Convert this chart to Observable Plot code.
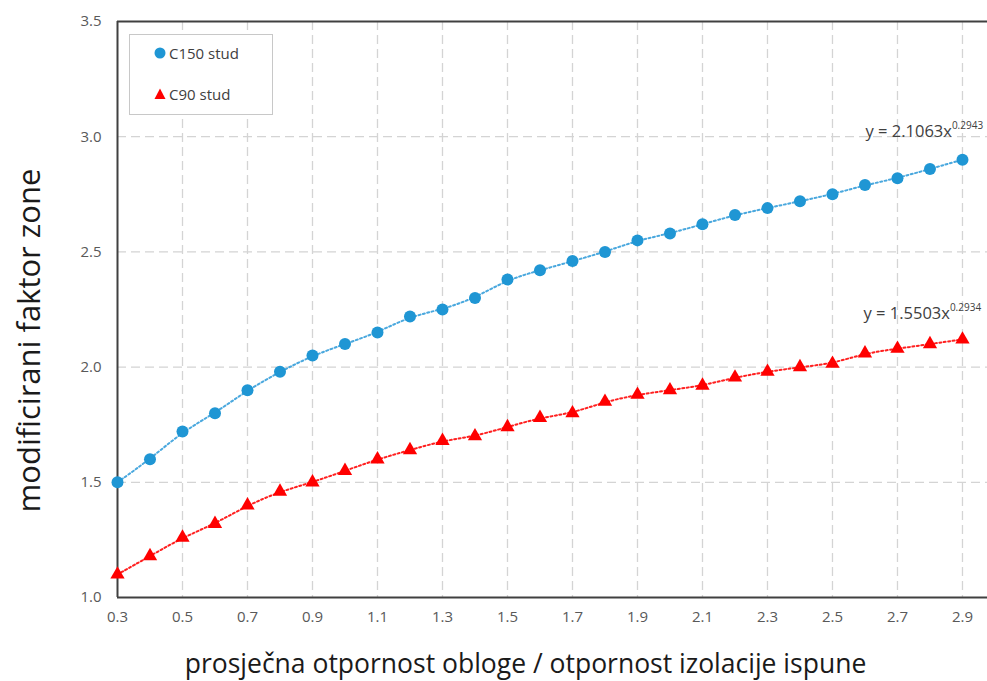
<!DOCTYPE html>
<html>
<head>
<meta charset="utf-8">
<script src="https://cdn.jsdelivr.net/npm/d3@7"></script>
<script src="https://cdn.jsdelivr.net/npm/@observablehq/plot@0.6"></script>
<style>
  html, body { margin: 0; padding: 0; background: #fff; }
  #wrap { position: relative; width: 987px; height: 681px; font-family: "Open Sans", sans-serif; }
  #legend { position: absolute; left: 129px; top: 34px; width: 142px; height: 79px;
    border: 1.5px solid #c8c8c8; background: #fff; color: #404040; font-size: 15px; }
  #legend .item { position: absolute; left: 24px; display: flex; align-items: center; gap: 3px; }
</style>
</head>
<body>
<div id="wrap">
  <div id="chart"></div>
  <div id="legend"></div>
</div>
<script>
const xs   = [0.3,0.4,0.5,0.6,0.7,0.8,0.9,1.0,1.1,1.2,1.3,1.4,1.5,1.6,1.7,1.8,1.9,2.0,2.1,2.2,2.3,2.4,2.5,2.6,2.7,2.8,2.9];
const c150 = [1.50,1.60,1.72,1.80,1.90,1.98,2.05,2.10,2.15,2.22,2.25,2.30,2.38,2.42,2.46,2.50,2.55,2.58,2.62,2.66,2.69,2.72,2.75,2.79,2.82,2.86,2.90];
const c90  = [1.10,1.18,1.26,1.32,1.40,1.46,1.50,1.55,1.60,1.64,1.68,1.70,1.74,1.78,1.80,1.85,1.88,1.90,1.92,1.955,1.98,2.00,2.015,2.06,2.08,2.10,2.12];
const seriesNames = ["C150 stud", "C90 stud"];
const seriesColors = ["#1f96d4", "#ff0000"];
const lineColors = ["#4aa8de", "#ff2020"];
const xTicks = [0.3,0.5,0.7,0.9,1.1,1.3,1.5,1.7,1.9,2.1,2.3,2.5,2.7,2.9];
const yTicks = [1.0,1.5,2.0,2.5,3.0,3.5];
const eqBase = ["y = 2.1063x", "y = 1.5503x"];
const eqExp  = ["0.2943", "0.2934"];
const xTitle = "prosječna otpornost obloge / otpornost izolacije ispune";
const yTitle = "modificirani faktor zone";

const d150 = xs.map((x, i) => ({x, y: c150[i]}));
const d90  = xs.map((x, i) => ({x, y: c90[i]}));
const eqData = [
  {x: xs[xs.length-1], y: c150[c150.length-1], t: eqBase[0], dx: -97, dy: -23},
  {x: xs[xs.length-1], y: c90[c90.length-1], t: eqBase[1], dx: -99, dy: -20}
];

const gridStyle = {stroke: "#d4d4d4", strokeOpacity: 1, strokeWidth: 1.3, strokeDasharray: "9,5"};
const fmt = d => d.toFixed(1);

const chart = Plot.plot({
  width: 987, height: 681,
  marginLeft: 117, marginTop: 21, marginBottom: 84, marginRight: 0,
  style: {fontFamily: "Open Sans, sans-serif", color: "#595959", background: "#fff"},
  x: {domain: [0.3, 2.977]},
  y: {domain: [1, 3.5]},
  marks: [
    Plot.gridX(xTicks.slice(1), gridStyle),
    Plot.gridY(yTicks.slice(1, -1), gridStyle),
    Plot.ruleY([3.5], {stroke: "#404040", strokeWidth: 2}),
    Plot.ruleY([1.0], {stroke: "#404040", strokeWidth: 2}),
    Plot.ruleX([0.3], {stroke: "#404040", strokeWidth: 2}),
    Plot.line(d150, {x: "x", y: "y", stroke: lineColors[0], strokeWidth: 2, strokeDasharray: "2,2.5", curve: "basis"}),
    Plot.line(d90,  {x: "x", y: "y", stroke: lineColors[1], strokeWidth: 2, strokeDasharray: "2,2.5", curve: "basis"}),
    Plot.dot(d150, {x: "x", y: "y", r: 6, fill: seriesColors[0], symbol: "circle"}),
    Plot.dot(d90,  {x: "x", y: "y", r: 5.3, fill: seriesColors[1], symbol: "triangle"}),
    Plot.axisX({ticks: xTicks, tickSize: 0, tickPadding: 14, tickFormat: fmt, label: null}),
    Plot.axisY({ticks: yTicks, tickSize: 0, tickPadding: 16, tickFormat: fmt, label: null}),
    Plot.text(eqData, {x: "x", y: "y", text: "t", textAnchor: "start", lineAnchor: "bottom", fontSize: 16.5, fill: "#404040"}),
    Plot.text([yTitle], {frameAnchor: "left", textAnchor: "middle", rotate: -90, dx: -87, dy: 31, fontSize: 31, fill: "#1a1a1a", lineAnchor: "middle"}),
    Plot.text([xTitle], {frameAnchor: "bottom", textAnchor: "middle", dx: -27, dy: 67, fontSize: 26.5, fill: "#1a1a1a", lineAnchor: "middle"})
  ]
});

const tickStrings = new Set([...xTicks.map(fmt), ...yTicks.map(fmt)]);
d3.select(chart).selectAll("text").each(function() {
  const el = d3.select(this);
  const s = el.text();
  if (tickStrings.has(s)) {
    el.style("font-size", "15px");
  }
  const idx = eqBase.indexOf(s);
  if (idx >= 0) {
    const e = eqData[idx];
    el.attr("dx", e.dx).attr("dy", e.dy);
    el.append("tspan").attr("dy", -8).attr("font-size", 10).text(eqExp[idx]);
  }
});

document.getElementById("chart").appendChild(chart);

// legend
const lg = document.getElementById("legend");
seriesNames.forEach((name, i) => {
  const item = document.createElement("div");
  item.className = "item";
  item.style.top = (i === 0 ? 8 : 49) + "px";
  const sym = i === 0
    ? `<svg width="12" height="12"><circle cx="6" cy="6" r="5.5" fill="${seriesColors[i]}"/></svg>`
    : `<svg width="12" height="12"><path d="M6,0.5 L11.5,11 L0.5,11 Z" fill="${seriesColors[i]}"/></svg>`;
  item.innerHTML = sym + `<span>${name}</span>`;
  lg.appendChild(item);
});
</script>
</body>
</html>
